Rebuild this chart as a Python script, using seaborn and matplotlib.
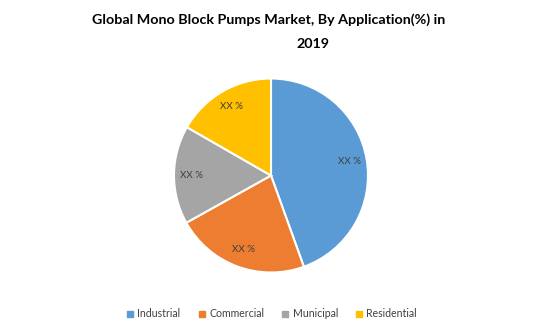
import matplotlib
matplotlib.use("Agg")
import matplotlib.pyplot as plt
from matplotlib.lines import Line2D
import seaborn as sns

# Market share by application, 2019 (percent)
applications = ["Industrial", "Commercial", "Municipal", "Residential"]
shares = [44.5, 22.4, 16.4, 16.7]
slice_labels = ["XX %", "XX %", "XX %", "XX %"]
colors = ["#5B9BD5", "#ED7D31", "#A5A5A5", "#FFC000"]
title_lines = ["Global Mono Block Pumps Market, By Application(%) in", "2019"]

sns.set_theme(style="white")
plt.rcParams["font.family"] = ["Lato", "DejaVu Sans"]

W, H = 543, 334
fig = plt.figure(figsize=(W / 100, H / 100), dpi=100)
fig.patch.set_facecolor("white")

ax = fig.add_axes([(271 - 97) / W, (H - 175.5 - 97) / H, 194 / W, 194 / H])
wedges, texts = ax.pie(
    shares,
    colors=sns.color_palette(colors),
    startangle=90,
    counterclock=False,
    labels=slice_labels,
    labeldistance=0.82,
    wedgeprops=dict(edgecolor="white", linewidth=1.5),
    textprops=dict(fontsize=7, color="#404040", ha="center", va="center"),
)
ax.set_xlim(-1.0, 1.0)
ax.set_ylim(-1.0, 1.0)
ax.set_aspect("equal")
ax.axis("off")

# Two-line title: the wrapped year sits right of centre
title_style = dict(ha="center", va="center", fontsize=10.3,
                   fontweight="bold", color="black")
fig.text(269 / W, 1 - 20 / H, title_lines[0], **title_style)
fig.text(313 / W, 1 - 44 / H, title_lines[1], **title_style)

handles = [Line2D([0], [0], marker="s", linestyle="none", markersize=4,
                  markerfacecolor=c, markeredgecolor=c) for c in colors]
fig.legend(handles, applications, loc="center", bbox_to_anchor=(0.5, 0.06),
           ncol=4, frameon=False, fontsize=7.6, handlelength=0.8,
           handletextpad=0.3, columnspacing=1.6, labelcolor="#404040")

fig.savefig("out.png", dpi=100, facecolor="white")
